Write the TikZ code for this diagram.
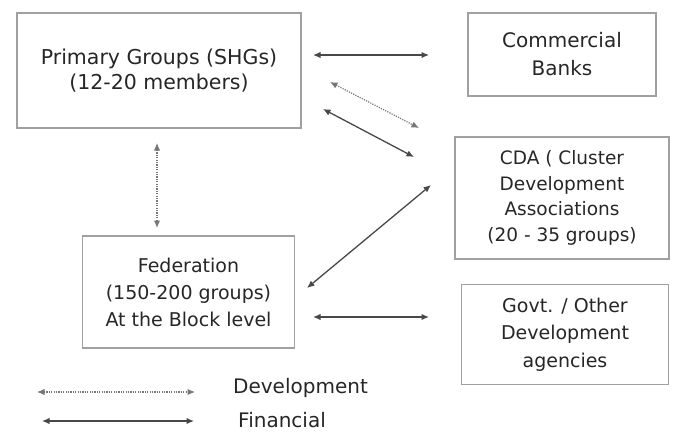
\documentclass[tikz,border=0pt]{standalone}
\usepackage{fontspec}
\setmainfont{DejaVu Sans}
\usetikzlibrary{arrows.meta}
\definecolor{boxline}{HTML}{A0A0A0}
\definecolor{txt}{HTML}{262626}
\definecolor{arr}{HTML}{484848}
\tikzset{
  box/.style={draw=boxline, line width=1.4pt, align=center, text=txt, inner sep=0pt},
  fin/.style={arr, line width=1.3pt, {Latex[length=7.5pt,width=6.5pt]}-{Latex[length=7.5pt,width=6.5pt]}},
  dev/.style={arr!75, line width=1.2pt, dash pattern=on 1.2pt off 1.2pt, {Latex[length=7.5pt,width=6.5pt]}-{Latex[length=7.5pt,width=6.5pt]}},
  legend/.style={anchor=west, text=txt, inner sep=0pt}
}
\begin{document}
\begin{tikzpicture}[x=1pt,y=-1pt]
\useasboundingbox (0,0) rectangle (686,432);
\node[box, minimum width=284pt, minimum height=115pt, font=\fontsize{20.5}{25}\selectfont] (A) at (159,70.5) {Primary Groups (SHGs)\\(12-20 members)};
\node[box, minimum width=188pt, minimum height=83pt, font=\fontsize{20}{28}\selectfont] (B) at (562,54.5) {Commercial\\Banks};
\node[box, minimum width=214pt, minimum height=122pt, font=\fontsize{18.5}{25.5}\selectfont] (C) at (562,198) {CDA ( Cluster\\Development\\Associations\\(20 - 35 groups)};
\node[box, minimum width=212pt, minimum height=112pt, font=\fontsize{19}{27}\selectfont] (D) at (188.5,292) {Federation\\(150-200 groups)\\At the Block level};
\node[box, minimum width=207pt, minimum height=100pt, font=\fontsize{19}{27.5}\selectfont] (E) at (565,334.5) {Govt. / Other\\Development\\agencies};

\coordinate (ab1) at (313,55);  \coordinate (ab2) at (429,55);
\coordinate (ac1) at (330,82);  \coordinate (ac2) at (419,128);
\coordinate (ac3) at (323,109); \coordinate (ac4) at (414,157);
\coordinate (ad1) at (157,143); \coordinate (ad2) at (157,228);
\coordinate (dc1) at (307,288); \coordinate (dc2) at (431,185);
\coordinate (de1) at (313,317); \coordinate (de2) at (429,317);
\coordinate (l1a) at (37,392);  \coordinate (l1b) at (195,392);
\coordinate (l2a) at (42,421);  \coordinate (l2b) at (194,421);

\draw[fin] (ab1) -- (ab2);
\draw[dev] (ac1) -- (ac2);
\draw[fin] (ac3) -- (ac4);
\draw[dev] (ad1) -- (ad2);
\draw[fin] (dc1) -- (dc2);
\draw[fin] (de1) -- (de2);
\draw[dev] (l1a) -- (l1b);
\draw[fin] (l2a) -- (l2b);

\node[legend, font=\fontsize{20}{24}\selectfont] (L1) at (233,388) {Development};
\node[legend, font=\fontsize{20}{24}\selectfont] (L2) at (238,420) {Financial};
\end{tikzpicture}
\end{document}
